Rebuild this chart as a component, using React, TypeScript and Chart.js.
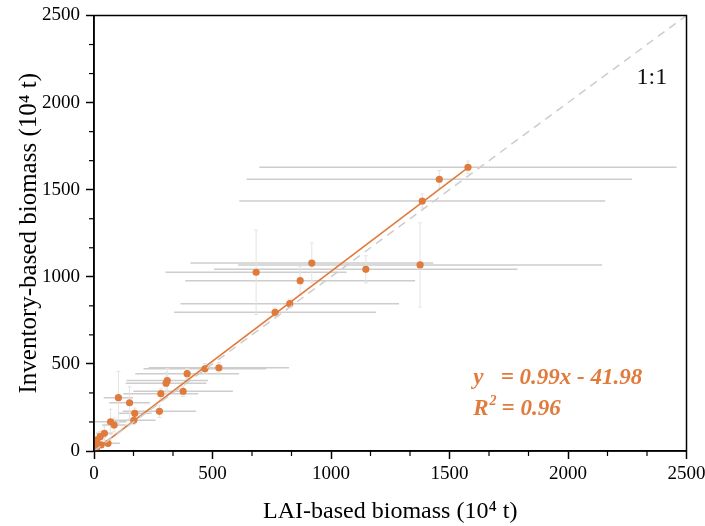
import React, { useEffect, useRef } from "react";
import { Chart, registerables } from "chart.js";

Chart.register(...registerables);

// LAI-based biomass (x) and inventory-based biomass (y), 10^4 t
const biomassLAI = [1578, 1457, 1385, 684, 919, 870, 1147, 1376, 826, 764, 527, 468, 393, 309, 304, 282, 376, 103, 150, 172, 276, 168, 70, 85, 44, 26, 12, 59, 5, 30, 10];
const biomassInv = [1629, 1560, 1435, 1026, 1079, 978, 1043, 1068, 846, 796, 478, 472, 444, 404, 389, 329, 343, 306, 277, 216, 228, 176, 168, 149, 102, 82, 63, 44, 52, 35, 15];
const errLAI = [880, 813, 772, 382, 512, 485, 640, 768, 461, 426, 296, 259, 219, 172, 170, 158, 210, 62, 86, 71, 155, 92, 67, 50, 35, 25, 15, 50, 8, 20, 8];
const errInv = [35, 50, 40, 242, 115, 83, 78, 242, 25, 25, 30, 30, 30, 70, 60, 30, 30, 150, 92, 30, 35, 25, 72, 40, 40, 30, 20, 15, 15, 10, 10];

// fitted line end points and 1:1 reference
const fitX = [3, 1578];
const fitY = [3, 1627];
const oneToOne = [0, 2500];

const axisTicks = [0, 500, 1000, 1500, 2000, 2500];
const equationText = "y   = 0.99x - 41.98";
const r2Text = "= 0.96";
const oneToOneLabel = "1:1";

const ORANGE = "#E07B3C";
const SERIF = "'Liberation Serif', 'Times New Roman', serif";

const errorBarPlugin = {
  id: "errorBars",
  beforeDatasetsDraw(chart: any) {
    const { ctx, chartArea, scales } = chart;
    const xs = scales.x;
    const ys = scales.y;
    ctx.save();
    ctx.beginPath();
    ctx.rect(chartArea.left, chartArea.top, chartArea.right - chartArea.left, chartArea.bottom - chartArea.top);
    ctx.clip();
    ctx.strokeStyle = "#CDCDCD";
    ctx.lineWidth = 1.5;
    for (let i = 0; i < biomassLAI.length; i++) {
      const y = ys.getPixelForValue(biomassInv[i]);
      const x1 = xs.getPixelForValue(biomassLAI[i] - errLAI[i]);
      const x2 = xs.getPixelForValue(biomassLAI[i] + errLAI[i]);
      ctx.beginPath();
      ctx.moveTo(x1, y);
      ctx.lineTo(x2, y);
      ctx.stroke();
    }
    ctx.strokeStyle = "#E3E3E3";
    ctx.lineWidth = 1;
    for (let i = 0; i < biomassLAI.length; i++) {
      const x = xs.getPixelForValue(biomassLAI[i]);
      const y1 = ys.getPixelForValue(biomassInv[i] - errInv[i]);
      const y2 = ys.getPixelForValue(biomassInv[i] + errInv[i]);
      ctx.beginPath();
      ctx.moveTo(x, y1);
      ctx.lineTo(x, y2);
      ctx.moveTo(x - 2, y1);
      ctx.lineTo(x + 2, y1);
      ctx.moveTo(x - 2, y2);
      ctx.lineTo(x + 2, y2);
      ctx.stroke();
    }
    ctx.restore();
  },
};

const framePlugin = {
  id: "frame",
  afterDraw(chart: any) {
    const { ctx, chartArea, scales } = chart;
    const xs = scales.x;
    const ys = scales.y;
    ctx.save();
    ctx.strokeStyle = "#000";
    ctx.lineWidth = 1.5;
    ctx.strokeRect(chartArea.left, chartArea.top, chartArea.right - chartArea.left, chartArea.bottom - chartArea.top);
    ctx.lineWidth = 1.2;
    for (let k = 0; k < axisTicks.length - 1; k++) {
      for (let m = 1; m <= 2; m++) {
        const v = axisTicks[k] + ((axisTicks[k + 1] - axisTicks[k]) * m) / 3;
        const px = xs.getPixelForValue(v);
        ctx.beginPath();
        ctx.moveTo(px, chartArea.bottom);
        ctx.lineTo(px, chartArea.bottom + 5);
        ctx.stroke();
        const py = ys.getPixelForValue(v);
        ctx.beginPath();
        ctx.moveTo(chartArea.left, py);
        ctx.lineTo(chartArea.left - 5, py);
        ctx.stroke();
      }
    }
    ctx.fillStyle = "#111";
    ctx.font = `24px ${SERIF}`;
    ctx.textAlign = "center";
    ctx.textBaseline = "middle";
    ctx.fillText(oneToOneLabel, xs.getPixelForValue(2354), ys.getPixelForValue(2141));

    ctx.fillStyle = ORANGE;
    ctx.textAlign = "left";
    ctx.textBaseline = "alphabetic";
    ctx.font = `bold italic 23px ${SERIF}`;
    const ex = xs.getPixelForValue(1600);
    ctx.fillText(equationText, ex, ys.getPixelForValue(385));
    const ry = ys.getPixelForValue(205);
    ctx.fillText("R", ex, ry);
    const rw = ctx.measureText("R").width;
    ctx.font = `bold italic 14px ${SERIF}`;
    ctx.fillText("2", ex + rw + 1, ry - 10);
    ctx.font = `bold italic 23px ${SERIF}`;
    ctx.fillText(r2Text, ex + rw + 13, ry);
    ctx.restore();
  },
};

export default function App() {
  const ref = useRef<HTMLCanvasElement>(null);
  useEffect(() => {
    document.body.style.margin = "0";
    const chart = new Chart(ref.current!, {
      type: "scatter",
      data: {
        datasets: [
          {
            type: "line",
            data: oneToOne.map((v) => ({ x: v, y: v })),
            borderColor: "#CCCCCC",
            borderWidth: 1.5,
            borderDash: [8, 6],
            pointRadius: 0,
            fill: false,
          },
          {
            type: "line",
            data: fitX.map((v, i) => ({ x: v, y: fitY[i] })),
            borderColor: ORANGE,
            borderWidth: 1.6,
            pointRadius: 0,
            fill: false,
          },
          {
            data: biomassLAI.map((v, i) => ({ x: v, y: biomassInv[i] })),
            backgroundColor: ORANGE,
            borderColor: ORANGE,
            pointRadius: 3.6,
            borderWidth: 0,
          },
        ],
      },
      options: {
        animation: false,
        responsive: true,
        maintainAspectRatio: false,
        layout: { padding: { left: 0, right: 18.5, top: 15.5, bottom: 0 } },
        plugins: { legend: { display: false }, tooltip: { enabled: false } },
        scales: {
          x: {
            type: "linear",
            min: 0,
            max: 2500,
            afterFit: (s: any) => {
              s.height = 75;
              s.paddingRight = 0;
              s.paddingLeft = 0;
            },
            ticks: { stepSize: 500, color: "#000", font: { family: SERIF, size: 19 }, padding: 4, maxRotation: 0, callback: (v: any) => String(v) },
            grid: { drawOnChartArea: false, tickLength: 8, tickColor: "#000", tickWidth: 1.5 },
            border: { color: "#000", width: 1.5 },
            title: { display: true, text: "LAI-based biomass (10⁴ t)", color: "#000", font: { family: SERIF, size: 24 }, padding: { bottom: 0, top: 0 } },
          },
          y: {
            type: "linear",
            min: 0,
            max: 2500,
            afterFit: (s: any) => {
              s.width = 94;
              s.paddingTop = 0;
              s.paddingBottom = 0;
            },
            ticks: { stepSize: 500, color: "#000", font: { family: SERIF, size: 19 }, padding: 6, callback: (v: any) => String(v) },
            grid: { drawOnChartArea: false, tickLength: 8, tickColor: "#000", tickWidth: 1.5 },
            border: { color: "#000", width: 1.5 },
            title: { display: true, text: "Inventory-based biomass (10⁴ t)", color: "#000", font: { family: SERIF, size: 25 }, padding: { top: 14, bottom: 0 } },
          },
        },
      },
      plugins: [errorBarPlugin, framePlugin],
    });
    return () => chart.destroy();
  }, []);
  return (
    <div style={{ position: "relative", width: 705, height: 526 }}>
      <canvas ref={ref} />
    </div>
  );
}
